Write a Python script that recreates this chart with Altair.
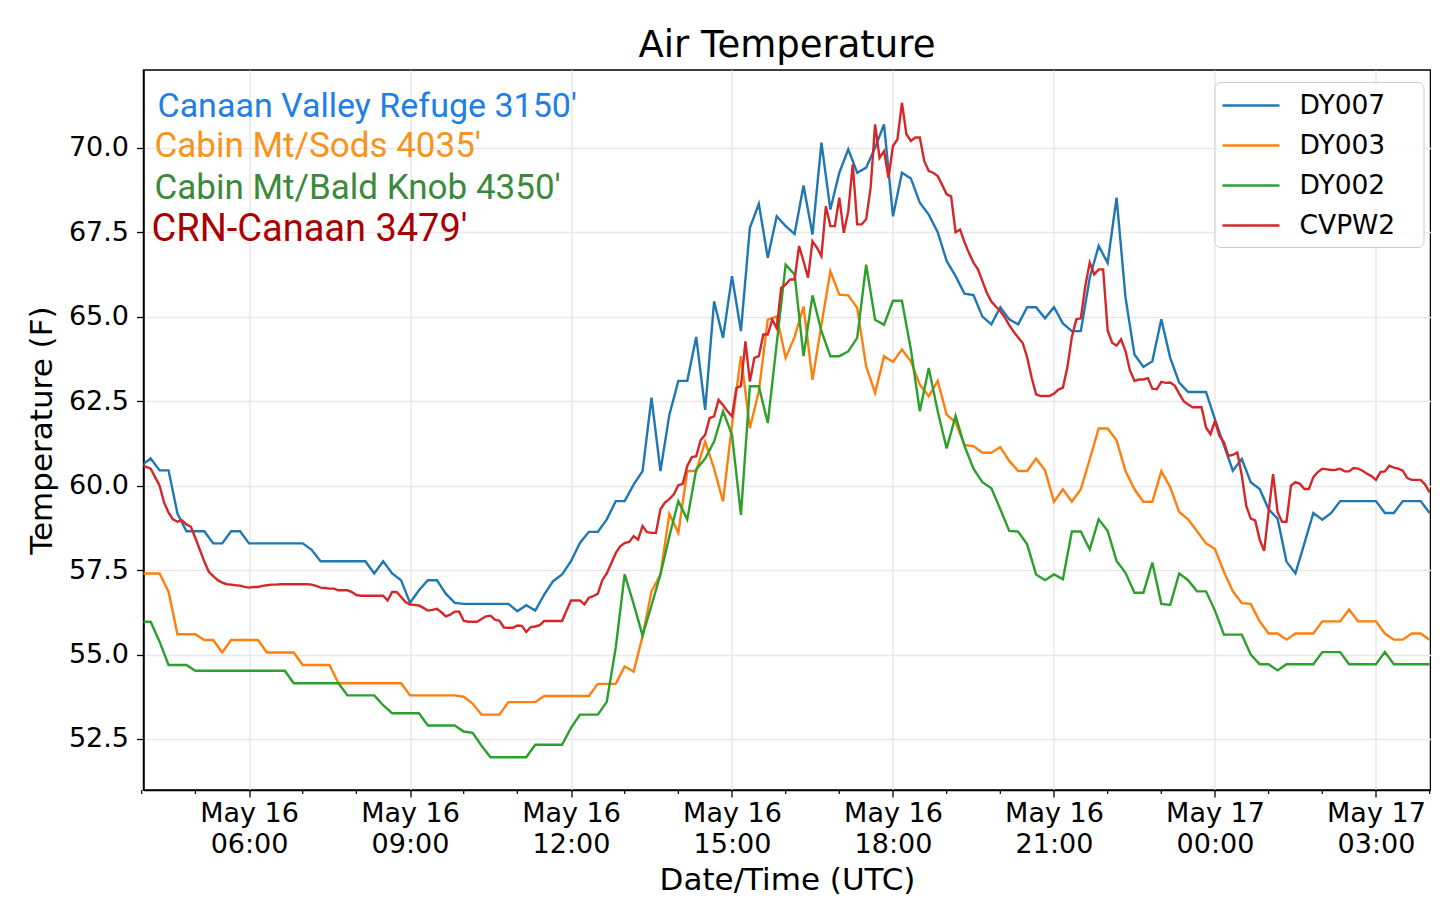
import altair as alt
import pandas as pd

YEAR = 2019
START = pd.Timestamp(f"{YEAR}-05-16 04:00:00")

stations = ["DY007", "DY003", "DY002", "CVPW2"]
line_colors = ["#1f77b4", "#ff7f0e", "#2ca02c", "#d62728"]

# DY stations: one reading every 10 minutes from May 16 04:00 UTC
dy007 = [
    60.60, 60.80, 60.45, 60.45, 59.17, 58.65, 58.65, 58.65, 58.29, 58.29,
    58.65, 58.65, 58.29, 58.29, 58.29, 58.29, 58.29, 58.29, 58.29, 58.10,
    57.76, 57.76, 57.76, 57.76, 57.76, 57.76, 57.40, 57.76, 57.40, 57.20,
    56.53, 56.90, 57.20, 57.20, 56.80, 56.53, 56.50, 56.50, 56.50, 56.50,
    56.50, 56.50, 56.28, 56.46, 56.30, 56.77, 57.17, 57.37, 57.76, 58.30,
    58.63, 58.63, 59.00, 59.54, 59.54, 60.03, 60.43, 62.60, 60.43, 62.10,
    63.10, 63.10, 64.40, 62.24, 65.45, 64.37, 66.20, 64.57, 67.63, 68.34,
    66.74, 67.97, 67.68, 67.45, 68.88, 67.43, 70.15, 68.17, 69.26, 69.95,
    69.26, 69.41, 70.00, 70.69, 67.97, 69.26, 69.09, 68.37, 68.02, 67.50,
    66.65, 66.20, 65.68, 65.64, 65.00, 64.77, 65.28, 64.92, 64.77, 65.28,
    65.28, 64.95, 65.28, 64.80, 64.57, 64.57, 66.15, 67.09, 66.59, 68.52,
    65.56, 63.88, 63.51, 63.68, 64.92, 63.78, 63.05, 62.77, 62.77, 62.77,
    61.96, 61.20, 60.44, 60.79, 60.10, 59.90, 59.30, 59.02, 57.75, 57.40,
    58.29, 59.19, 58.99, 59.19, 59.54, 59.54, 59.54, 59.54, 59.54, 59.19,
    59.19, 59.54, 59.54, 59.54, 59.19,
]
dy003 = [
    57.40, 57.40, 57.40, 56.86, 55.60, 55.60, 55.60, 55.43, 55.43, 55.06,
    55.43, 55.43, 55.43, 55.43, 55.06, 55.06, 55.06, 55.06, 54.69, 54.69,
    54.69, 54.69, 54.15, 54.15, 54.15, 54.15, 54.15, 54.15, 54.15, 54.15,
    53.79, 53.79, 53.79, 53.79, 53.79, 53.79, 53.75, 53.55, 53.22, 53.22,
    53.22, 53.59, 53.59, 53.59, 53.59, 53.77, 53.77, 53.77, 53.77, 53.77,
    53.77, 54.13, 54.13, 54.13, 54.65, 54.49, 55.54, 56.87, 57.37, 59.16,
    58.60, 60.43, 60.43, 61.30, 60.50, 59.53, 61.80, 63.83, 61.70, 62.79,
    64.91, 65.00, 63.78, 64.40, 65.30, 63.13, 64.76, 66.34, 65.65, 65.63,
    65.26, 63.53, 62.74, 63.83, 63.66, 64.03, 63.68, 62.99, 62.64, 63.10,
    62.10, 61.87, 61.20, 61.17, 60.97, 60.97, 61.14, 60.73, 60.43, 60.43,
    60.80, 60.45, 59.52, 59.89, 59.52, 59.89, 60.78, 61.69, 61.69, 61.34,
    60.43, 59.89, 59.52, 59.52, 60.43, 59.95, 59.22, 59.00, 58.65, 58.29,
    58.12, 57.45, 56.87, 56.52, 56.50, 55.98, 55.62, 55.62, 55.44, 55.62,
    55.62, 55.62, 55.98, 55.98, 55.98, 56.33, 55.98, 55.98, 55.98, 55.62,
    55.44, 55.44, 55.62, 55.62, 55.44,
]
dy002 = [
    55.97, 55.97, 55.38, 54.69, 54.69, 54.69, 54.52, 54.52, 54.52, 54.52,
    54.52, 54.52, 54.52, 54.52, 54.52, 54.52, 54.52, 54.15, 54.15, 54.15,
    54.15, 54.15, 54.15, 53.79, 53.79, 53.79, 53.79, 53.50, 53.26, 53.26,
    53.26, 53.26, 52.90, 52.90, 52.90, 52.90, 52.72, 52.68, 52.30, 51.96,
    51.96, 51.96, 51.96, 51.96, 52.33, 52.33, 52.33, 52.33, 52.83, 53.22,
    53.22, 53.22, 53.60, 55.20, 57.37, 56.50, 55.56, 56.45, 57.37, 58.50,
    59.54, 59.00, 60.48, 60.80, 61.30, 62.20, 61.50, 59.13, 62.94, 62.94,
    61.85, 64.20, 66.54, 66.25, 63.83, 65.63, 64.57, 63.83, 63.83, 63.97,
    64.37, 66.54, 64.91, 64.76, 65.47, 65.47, 64.03, 62.20, 63.48, 62.20,
    61.10, 62.06, 61.17, 60.50, 60.10, 59.92, 59.30, 58.66, 58.64, 58.26,
    57.37, 57.20, 57.37, 57.23, 58.64, 58.64, 58.11, 59.00, 58.66, 57.77,
    57.42, 56.83, 56.83, 57.72, 56.50, 56.47, 57.40, 57.20, 56.87, 56.87,
    56.30, 55.59, 55.59, 55.59, 55.00, 54.71, 54.71, 54.53, 54.71, 54.71,
    54.71, 54.71, 55.07, 55.07, 55.07, 54.71, 54.71, 54.71, 54.71, 55.07,
    54.71, 54.71, 54.71, 54.71, 54.71,
]
# CVPW2 (CRN): one reading every 5 minutes from May 16 04:00 UTC
cvpw2 = [
    60.60, 60.55, 60.50, 60.25, 60.00, 59.50, 59.20, 59.00, 58.93, 58.97,
    58.85, 58.78, 58.45, 58.10, 57.75, 57.45, 57.32, 57.20, 57.13, 57.08,
    57.07, 57.05, 57.04, 57.00, 56.98, 57.00, 57.00, 57.03, 57.05, 57.07,
    57.07, 57.08, 57.08, 57.08, 57.08, 57.08, 57.08, 57.08, 57.07, 57.03,
    56.98, 56.97, 56.95, 56.95, 56.90, 56.90, 56.90, 56.85, 56.76, 56.74,
    56.74, 56.74, 56.74, 56.74, 56.74, 56.60, 56.85, 56.85, 56.70, 56.55,
    56.48, 56.47, 56.45, 56.38, 56.30, 56.32, 56.35, 56.25, 56.13, 56.18,
    56.27, 56.27, 56.00, 55.97, 55.97, 55.97, 56.05, 56.13, 56.15, 56.03,
    56.00, 55.80, 55.79, 55.79, 55.86, 55.85, 55.67, 55.81, 55.83, 55.87,
    55.99, 55.99, 55.99, 55.99, 55.99, 56.30, 56.60, 56.60, 56.60, 56.48,
    56.68, 56.73, 56.80, 57.20, 57.40, 57.70, 58.00, 58.20, 58.30, 58.33,
    58.50, 58.40, 58.80, 58.62, 58.60, 58.60, 59.30, 59.50, 59.60, 59.74,
    60.01, 60.05, 60.58, 60.84, 60.87, 61.35, 61.50, 62.00, 62.05, 62.54,
    62.38, 62.20, 62.05, 62.89, 62.94, 64.27, 63.08, 63.78, 63.83, 64.47,
    64.47, 64.91, 64.66, 65.85, 65.95, 66.10, 66.10, 67.09, 66.64, 66.15,
    67.23, 67.04, 66.79, 68.27, 67.68, 67.68, 68.52, 67.48, 68.12, 69.51,
    67.73, 67.73, 67.88, 68.81, 70.69, 69.70, 69.90, 69.11, 70.05, 70.25,
    71.33, 70.40, 70.20, 70.30, 70.30, 69.60, 69.31, 69.26, 69.16, 68.90,
    68.62, 68.56, 67.50, 67.58, 67.20, 66.88, 66.60, 66.40, 66.05, 65.70,
    65.45, 65.30, 65.16, 64.98, 64.75, 64.55, 64.38, 64.22, 63.80, 63.20,
    62.70, 62.65, 62.65, 62.65, 62.72, 62.84, 62.90, 63.50, 64.40, 64.92,
    64.95, 65.90, 66.60, 66.25, 66.40, 66.40, 64.60, 64.23, 64.14, 64.33,
    63.98, 63.40, 63.10, 63.14, 63.14, 63.18, 62.87, 62.85, 63.07, 63.04,
    63.05, 62.96, 62.72, 62.50, 62.40, 62.32, 62.32, 62.32, 61.72, 61.52,
    61.91, 61.47, 61.28, 60.88, 60.91, 60.98, 60.30, 59.40, 59.02, 58.97,
    58.40, 58.07, 59.22, 60.34, 59.22, 58.93, 58.93, 60.00, 60.10, 60.05,
    59.90, 59.90, 60.25, 60.40, 60.50, 60.48, 60.46, 60.47, 60.50, 60.42,
    60.42, 60.52, 60.50, 60.44, 60.35, 60.28, 60.17, 60.40, 60.42, 60.59,
    60.53, 60.50, 60.44, 60.22, 60.17, 60.17, 60.17, 60.03, 59.80,
]

annotations = ["Canaan Valley Refuge 3150'", "Cabin Mt/Sods 4035'",
               "Cabin Mt/Bald Knob 4350'", "CRN-Canaan 3479'"]
y_ticks = [52.5, 55.0, 57.5, 60.0, 62.5, 65.0, 67.5, 70.0]


def series(name, values, step):
    times = [(START + pd.Timedelta(minutes=step * i)).strftime("%Y-%m-%dT%H:%M:%SZ")
             for i in range(len(values))]
    return pd.DataFrame({"time": times, "temp": values, "station": name})


def dt(day, hour, minute=0):
    return alt.DateTime(year=YEAR, month=5, date=day, hours=hour, minutes=minute, utc=True)


major = [dt(16, h) for h in (6, 9, 12, 15, 18, 21)] + [dt(17, 0), dt(17, 3)]
minor_times = [(START + pd.Timedelta(hours=h)).strftime("%Y-%m-%dT%H:%M:%SZ")
               for h in range(25) if (h + 4) % 3 != 0]

W, H = 1287, 720

x_enc = alt.X(
    "time:T",
    scale=alt.Scale(type="utc", domain=[dt(16, 4, 2), dt(17, 4, 1)]),
    axis=alt.Axis(
        values=major,
        labelExpr="[utcFormat(datum.value, '%b %d'), utcFormat(datum.value, '%H:%M')]",
        title="Date/Time (UTC)",
        labelFontSize=27, titleFontSize=31, labelLineHeight=31,
        tickSize=7, labelPadding=3, titlePadding=8.5,
        labelFlush=False, labelOverlap=False, labelAngle=0,
    ),
)
y_enc = alt.Y(
    "temp:Q",
    scale=alt.Scale(domain=[50.99, 72.30], nice=False, zero=False),
    axis=alt.Axis(
        values=y_ticks, format=".1f", title="Temperature (F)",
        labelFontSize=27, titleFontSize=31, tickSize=7,
        labelPadding=8, titlePadding=9.5,
    ),
)
color_enc = alt.Color(
    "station:N",
    scale=alt.Scale(domain=stations, range=line_colors),
    legend=alt.Legend(
        title=None, orient="none", legendX=1071, legendY=12,
        symbolType="M-2,0H2", symbolSize=812, symbolStrokeWidth=2.5,
        symbolOffset=13, labelOffset=33,
        labelFontSize=26.5, labelFont="DejaVu Sans", labelColor="black",
        labelExpr="datum.label + '\u2800'",
        rowPadding=11, padding=8,
        strokeColor="#cccccc", cornerRadius=6, fillColor="rgba(255,255,255,0.8)",
    ),
)

layers = []

minor = alt.Chart(pd.DataFrame({"time": minor_times})).mark_rule(
    color="black", strokeWidth=1.2
).encode(x=x_enc, y=alt.value(H), y2=alt.value(H + 4))
layers.append(minor)

for name, vals, step in [("DY007", dy007, 10), ("DY003", dy003, 10),
                         ("DY002", dy002, 10), ("CVPW2", cvpw2, 5)]:
    layers.append(
        alt.Chart(series(name, vals, step)).mark_line(strokeWidth=2.4, clip=True).encode(
            x=x_enc, y=y_enc, color=color_enc
        )
    )

text_specs = [
    (annotations[0], "#1f7fe6", "Roboto", 34, 14, 36.5),
    (annotations[1], "#f7941d", "Roboto", 35, 11, 76),
    (annotations[2], "#3b8a3b", "Roboto", 35, 11, 117.5),
    (annotations[3], "#aa0000", "Roboto", 38, 8, 160),
]
for label, col, font, fs, px, py in text_specs:
    layers.append(
        alt.Chart(pd.DataFrame({"label": [label]})).mark_text(
            align="left", baseline="middle", font=font, fontSize=fs, color=col
        ).encode(x=alt.value(px), y=alt.value(py), text="label:N")
    )

chart = alt.layer(*layers).properties(
    width=W, height=H,
    title=alt.TitleParams("Air Temperature", fontSize=37, font="DejaVu Sans",
                          fontWeight="normal", color="black", offset=5, anchor="middle"),
    padding={"left": 18.5, "top": 19, "right": 0, "bottom": 0},
).configure_view(
    stroke="black", strokeWidth=1.5
).configure_axis(
    gridColor="#e8e8e8", gridWidth=1.5, domainColor="black", domainWidth=1.5,
    tickColor="black", tickWidth=1.3, labelColor="black", titleColor="black",
    labelFont="DejaVu Sans", titleFont="DejaVu Sans", titleFontWeight="normal",
)

chart.save("out.html", embed_options={"renderer": "svg", "actions": False})
